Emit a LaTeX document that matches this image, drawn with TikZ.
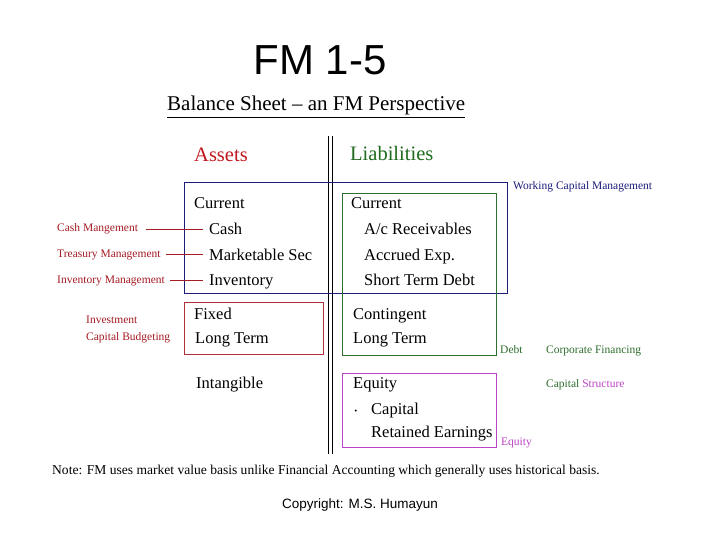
\documentclass[tikz,border=0pt]{standalone}
\usepackage{fontspec}
\setmainfont{Liberation Serif}
\newfontfamily\arialf{Liberation Sans}
\definecolor{lblred}{HTML}{A51C24}
\definecolor{assetred}{HTML}{C01820}
\definecolor{liabgreen}{HTML}{1F6B1F}
\definecolor{navyc}{HTML}{1C1C7A}
\definecolor{greenc}{HTML}{2E6F2E}
\definecolor{magc}{HTML}{BC44C4}
\definecolor{redbox}{HTML}{B0303A}
\tikzset{
  item/.style={anchor=base west,inner sep=0pt,font=\fontsize{16.5}{18}\selectfont},
  small/.style={anchor=base west,inner sep=0pt,font=\fontsize{11.5}{13}\selectfont},
  lbl/.style={small,text=lblred},
  conn/.style={draw=lblred,line width=0.8pt},
  frame/.style={line width=0.9pt},
}
\begin{document}
\begin{tikzpicture}[x=1pt,y=-1pt]
\useasboundingbox[fill=white] (0,0) rectangle (720,540);
% titles
\node[anchor=base,inner sep=0pt,font=\arialf\fontsize{42}{44}\selectfont] (title) at (320,75) {FM 1-5};
\node[anchor=base west,inner sep=0pt,font=\fontsize{21}{23}\selectfont] (head) at (167,111) {Balance Sheet -- an FM Perspective};
\draw[line width=0.8pt] (head.south west |- 0,117) -- (head.south east |- 0,117);
\node[anchor=base west,inner sep=0pt,text=assetred,font=\fontsize{20.5}{22}\selectfont] (assets) at (194,162) {Assets};
\node[anchor=base west,inner sep=0pt,text=liabgreen,font=\fontsize{20.5}{22}\selectfont] (liab) at (350,161) {Liabilities};
% double divider
\coordinate (d1t) at (328.5,136); \coordinate (d1b) at (328.5,454);
\coordinate (d2t) at (332.5,136); \coordinate (d2b) at (332.5,454);
\draw[line width=0.9pt] (d1t) -- (d1b);
\draw[line width=0.9pt] (d2t) -- (d2b);
% frames
\draw[frame,navyc] (184,182) rectangle (507,293);
\draw[frame,greenc] (342,193) rectangle (496,355);
\draw[frame,redbox] (184,302) rectangle (323,354);
\draw[frame,magc] (342,373) rectangle (496,447);
% assets items
\node[item] (curA) at (194,209) {Current};
\node[item] (cash) at (209,235) {Cash};
\node[item] (mkt) at (209,260) {Marketable Sec};
\node[item] (inv) at (209,285) {Inventory};
\node[item] (fixed) at (194,319.5) {Fixed};
\node[item] (ltA) at (195,343.5) {Long Term};
\node[item] (intang) at (196,388) {Intangible};
% liabilities items
\node[item] (curL) at (351,209) {Current};
\node[item] (ar) at (364,235) {A/c Receivables};
\node[item] (accr) at (364,260) {Accrued Exp.};
\node[item] (std) at (364,285) {Short Term Debt};
\node[item] (cont) at (353,319) {Contingent};
\node[item] (ltL) at (353,343) {Long Term};
\node[item] (eq) at (353,388) {Equity};
\node[item] (dot) at (353,416) {·};
\node[item] (cap) at (371,414) {Capital};
\node[item] (re) at (371,437) {Retained Earnings};
% left labels
\node[lbl] (cashm) at (57,232) {Cash Mangement};
\node[lbl] (treas) at (57,257) {Treasury Management};
\node[lbl] (invm) at (57,283) {Inventory Management};
\node[lbl] (invest) at (86,323) {Investment};
\node[lbl] (capb) at (86,340.5) {Capital Budgeting};
\draw[conn] ([xshift=8pt]cashm.east |- 0,229) -- ([xshift=-6pt]cash.west |- 0,229);
\draw[conn] ([xshift=5pt]treas.east |- 0,254) -- ([xshift=-6pt]mkt.west |- 0,254);
\draw[conn] ([xshift=5pt]invm.east |- 0,280) -- ([xshift=-6pt]inv.west |- 0,280);
% right labels
\node[small,text=navyc] (wcm) at (513,190) {Working Capital Management};
\node[small,text=greenc] (debt) at (500,353) {Debt};
\node[small,text=greenc] (corp) at (546,353) {Corporate Financing};
\node[small] (cs) at (546,387.5) {\textcolor{greenc}{Capital} \textcolor{magc}{Structure}};
\node[small,text=magc] (eqm) at (501,445.5) {Equity};
% note
\node[anchor=base west,inner sep=0pt,font=\fontsize{13.55}{15}\selectfont] (note) at (52,474) {Note: FM uses market value basis unlike Financial Accounting which generally uses historical basis.};
\node[anchor=base,inner sep=0pt,font=\arialf\fontsize{13.5}{15}\selectfont] (copy) at (360,508) {Copyright: M.S. Humayun};
\end{tikzpicture}
\end{document}
